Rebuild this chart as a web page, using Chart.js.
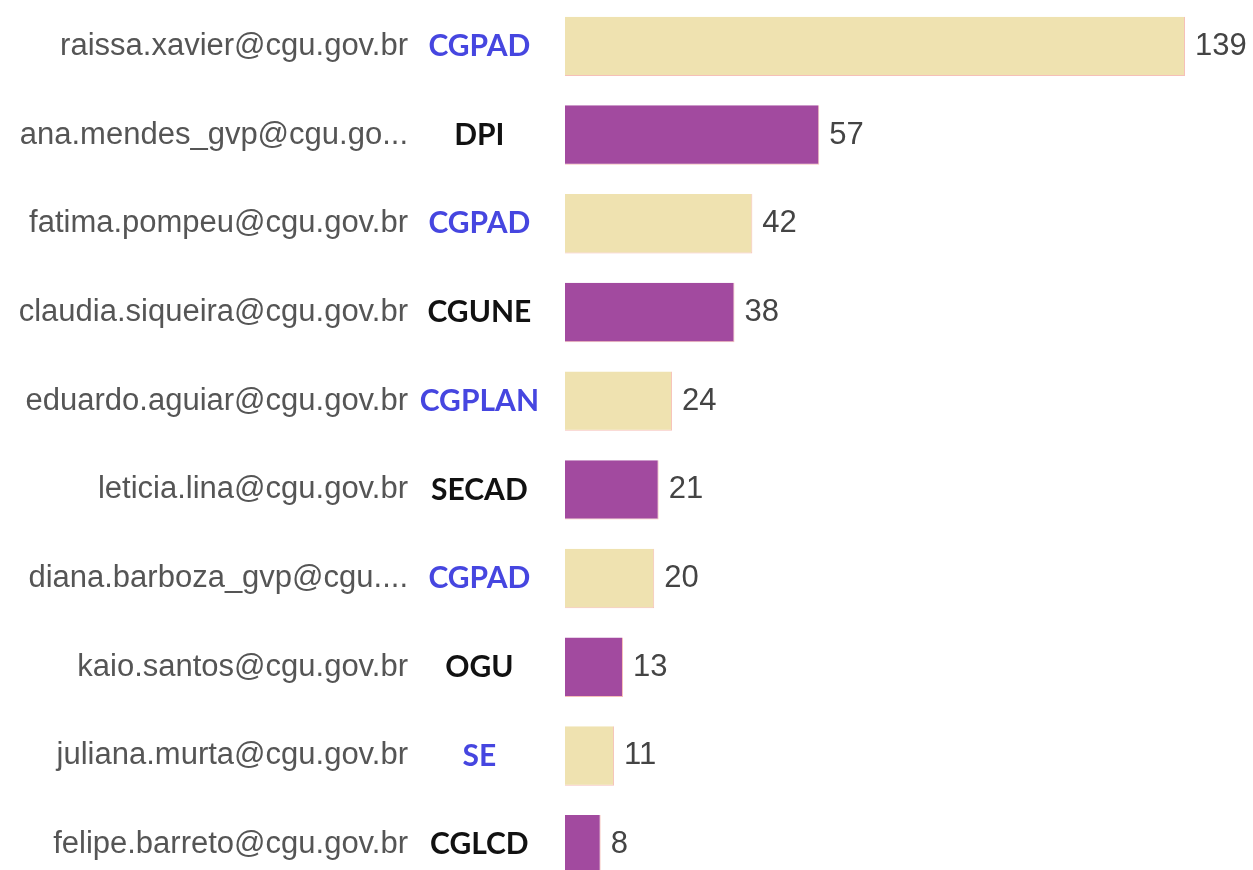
<!DOCTYPE html>
<html>
<head>
<meta charset="utf-8">
<script src="https://cdn.jsdelivr.net/npm/chart.js@4/dist/chart.umd.min.js"></script>
<style>
  html, body { margin: 0; padding: 0; background: #fff; overflow: hidden; }
  #wrap { position: relative; width: 1253px; height: 889px; }
</style>
</head>
<body>
<div id="wrap"><canvas id="c"></canvas></div>
<script>
const emails = [
  'raissa.xavier@cgu.gov.br',
  'ana.mendes_gvp@cgu.go...',
  'fatima.pompeu@cgu.gov.br',
  'claudia.siqueira@cgu.gov.br',
  'eduardo.aguiar@cgu.gov.br',
  'leticia.lina@cgu.gov.br',
  'diana.barboza_gvp@cgu....',
  'kaio.santos@cgu.gov.br',
  'juliana.murta@cgu.gov.br',
  'felipe.barreto@cgu.gov.br'
];
const departments = ['CGPAD', 'DPI', 'CGPAD', 'CGUNE', 'CGPLAN', 'SECAD', 'CGPAD', 'OGU', 'SE', 'CGLCD'];
const values = [139, 57, 42, 38, 24, 21, 20, 13, 11, 8];
const barColors = ['#EFE2B0', '#A24A9F', '#EFE2B0', '#A24A9F', '#EFE2B0', '#A24A9F', '#EFE2B0', '#A24A9F', '#EFE2B0', '#A24A9F'];
const deptColors = ['#4646E0', '#111111', '#4646E0', '#111111', '#4646E0', '#111111', '#4646E0', '#111111', '#4646E0', '#111111'];

const valueLabels = {
  id: 'valueLabels',
  afterDatasetsDraw(chart) {
    const ctx = chart.ctx;
    const meta = chart.getDatasetMeta(0);
    ctx.save();
    ctx.font = '31px "Liberation Sans", Arial, sans-serif';
    ctx.fillStyle = '#444444';
    ctx.textAlign = 'left';
    ctx.textBaseline = 'middle';
    meta.data.forEach((el, i) => {
      ctx.fillText(String(values[i]), el.x + 10, el.y);
    });
    ctx.restore();
  }
};

function noPad(s, w) {
  s.width = w;
  s.paddingTop = 0;
  s.paddingBottom = 0;
}

new Chart(document.getElementById('c'), {
  type: 'bar',
  data: {
    labels: emails,
    datasets: [{
      data: values,
      backgroundColor: barColors,
      borderColor: '#F6C0B8',
      borderWidth: { top: 0, left: 0, right: 1, bottom: 1 },
      borderSkipped: false,
      yAxisID: 'y',
      barPercentage: 0.67,
      categoryPercentage: 1
    }]
  },
  plugins: [valueLabels],
  options: {
    indexAxis: 'y',
    responsive: true,
    maintainAspectRatio: false,
    animation: false,
    layout: { padding: { top: 2, right: 68, bottom: 0, left: 0 } },
    plugins: { legend: { display: false }, tooltip: { enabled: false } },
    scales: {
      x: { display: false, min: 0, max: 139 },
      y: {
        position: 'left',
        weight: 2,
        offset: true,
        grid: { display: false, drawTicks: false },
        border: { display: false },
        afterFit: (s) => noPad(s, 412),
        ticks: {
          autoSkip: false,
          padding: 4,
          color: '#555555',
          font: { family: '"Liberation Sans", Arial, sans-serif', size: 31 }
        }
      },
      yDept: {
        type: 'category',
        labels: departments,
        position: 'left',
        weight: 1,
        offset: true,
        grid: { display: false, drawTicks: false },
        border: { display: false },
        afterFit: (s) => noPad(s, 153),
        ticks: {
          autoSkip: false,
          crossAlign: 'center',
          padding: 26,
          color: (c) => deptColors[c.index],
          font: { family: '"Lato", sans-serif', size: 30, weight: 'bold' }
        }
      }
    }
  }
});
</script>
</body>
</html>
